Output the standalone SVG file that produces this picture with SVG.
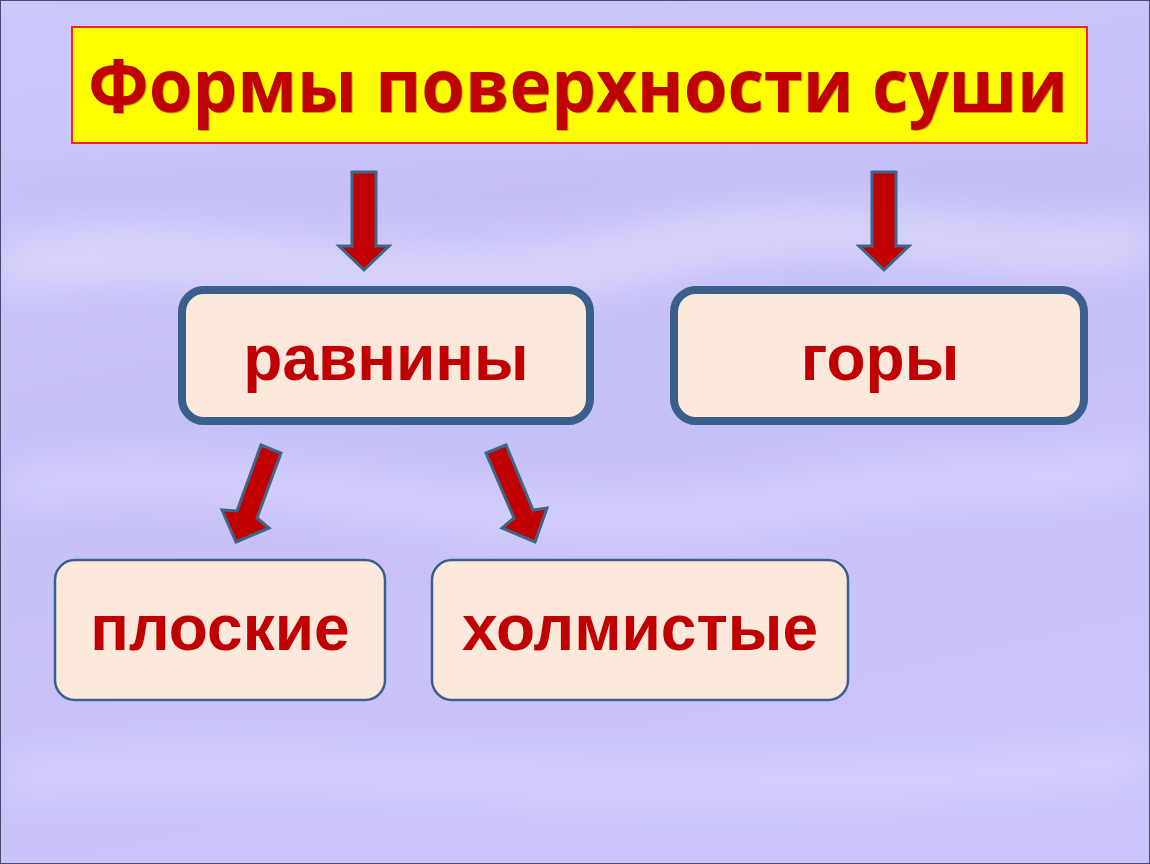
<svg xmlns="http://www.w3.org/2000/svg" width="1150" height="864" viewBox="0 0 1150 864">
<defs>
<linearGradient id="bg" x1="0" y1="0" x2="0.3" y2="1">
<stop offset="0" stop-color="#cdc8fa"/>
<stop offset="0.5" stop-color="#c6c0f8"/>
<stop offset="1" stop-color="#cac4fa"/>
</linearGradient>
<filter id="blur" x="-20%" y="-50%" width="140%" height="200%"><feGaussianBlur stdDeviation="22"/></filter>
<style>
.arrow{fill:#c00000;stroke:#3f6688;stroke-width:3;stroke-linejoin:miter}
.box1{fill:#fde9dc;stroke:#3a5f8c;stroke-width:8}
.box2{fill:#fde9dc;stroke:#3a5f8c;stroke-width:2.5}
.lbl{font-family:"Liberation Sans",Arial,sans-serif;font-weight:bold;font-size:64px;fill:#c00000;text-anchor:middle}
.title{font-family:"Open Sans","Liberation Sans",sans-serif;font-weight:bold;font-size:73px;text-anchor:middle}
</style>
</defs>
<rect x="0" y="0" width="1150" height="864" fill="url(#bg)"/>
<g filter="url(#blur)" opacity="0.4">
<path d="M0 250 C200 200 400 300 650 230 C850 180 1000 250 1150 220 L1150 260 C1000 290 850 220 650 275 C400 340 200 240 0 290 Z" fill="#ffffff"/>
<path d="M0 470 C250 420 500 540 800 480 C950 450 1050 470 1150 440 L1150 480 C1050 510 950 490 800 520 C500 580 250 460 0 510 Z" fill="#ffffff" opacity="0.7"/>
<path d="M0 760 C300 720 600 800 1150 740 L1150 780 C600 840 300 760 0 800 Z" fill="#ffffff" opacity="0.6"/>
<path d="M0 180 C300 170 500 190 1150 160 L1150 190 C500 215 300 200 0 210 Z" fill="#b0a8f0" opacity="0.6"/>
</g>
<rect x="0.5" y="0.5" width="1149" height="863" fill="none" stroke="#4a4a70" stroke-width="1"/>
<g id="title">
<rect x="72" y="27" width="1015" height="116" fill="#ffff00" stroke="#ff2020" stroke-width="2"/>
<text class="title" x="579" y="113" fill="#5a0000" opacity="0.35" textLength="980" lengthAdjust="spacingAndGlyphs">Формы поверхности суши</text>
<text class="title" x="578" y="112" fill="#c00000" textLength="980" lengthAdjust="spacingAndGlyphs">Формы поверхности суши</text>
</g>
<g id="connectors">
<polygon class="arrow" points="352,172 376,172 376,246 389,246 364,270 339,246 352,246"/>
<polygon class="arrow" points="872,172 896,172 896,246 909,246 884,270 859,246 872,246"/>
<polygon class="arrow" points="261,445 281,453 257,518 269,528 236,542 222,510 237,511"/>
<polygon class="arrow" points="506,445 486,453 514,518 502,528 535,542 547,508 533,510"/>
</g>
<g id="node-ravniny">
<rect class="box1" x="182" y="290" width="408" height="131" rx="22"/>
<text class="lbl" x="386" y="380">равнины</text>
</g>
<g id="node-gory">
<rect class="box1" x="674" y="290" width="410" height="131" rx="22"/>
<text class="lbl" x="880" y="380">горы</text>
</g>
<g id="node-ploskie">
<rect class="box2" x="55" y="560" width="330" height="140" rx="20"/>
<text class="lbl" x="220" y="650">плоские</text>
</g>
<g id="node-kholmistye">
<rect class="box2" x="432" y="560" width="416" height="140" rx="20"/>
<text class="lbl" x="640" y="650">холмистые</text>
</g>
</svg>
